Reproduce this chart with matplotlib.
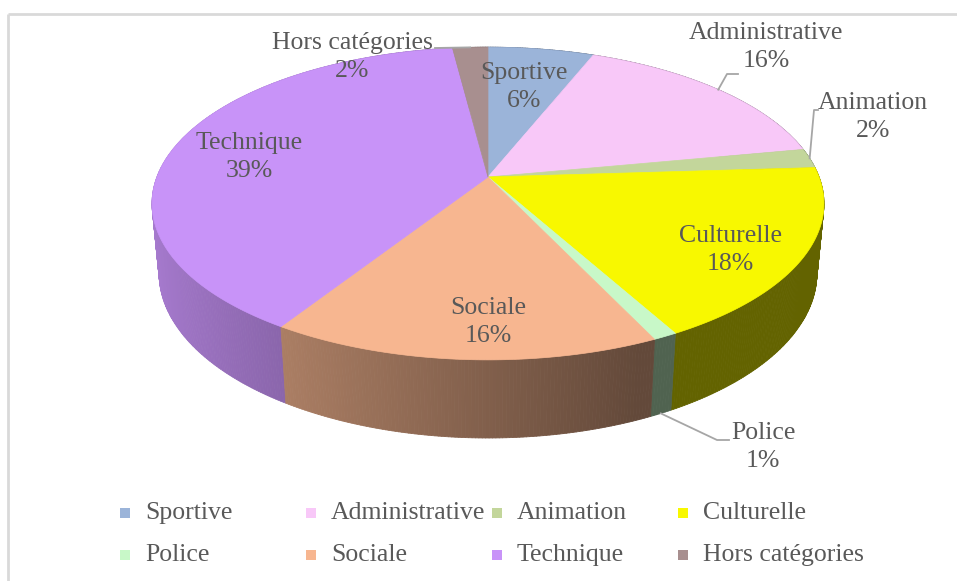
import numpy as np
import matplotlib
matplotlib.use("Agg")
import matplotlib.pyplot as plt
from matplotlib.collections import PolyCollection
from matplotlib.colors import to_rgb

# Répartition des demandes par catégorie (%)
categories = ["Sportive", "Administrative", "Animation", "Culturelle",
              "Police", "Sociale", "Technique", "Hors catégories"]
shares = [6, 16, 2, 18, 1, 16, 39, 2]
colors = ["#9bb4d9", "#f8c8f8", "#c3d69b", "#f8f800",
          "#c8f8c8", "#f7b690", "#c893f8", "#a88f8f"]

# label block centres (px) and leader stubs, layout only
label_pos = {
    "Sportive": (524, 87), "Administrative": (766, 47), "Animation": (873, 117),
    "Culturelle": (730, 250), "Police": (763, 447), "Sociale": (488, 322),
    "Technique": (249, 157), "Hors catégories": (352, 57),
}
leaders = {
    "Administrative": ([(738, 74), (727, 74)], "top"),
    "Animation": ([(818, 110), (814, 110)], "top"),
    "Police": ([(729, 440), (717, 440)], "bottom"),
    "Hors catégories": ([(435, 48)], "top"),
}

W, H = 957, 581
TEXT = "#595959"
FONT = "Liberation Serif"
FS = 18.5

# camera for the 3D disc (pixel space)
CX, CY = 488, 177
FOC, DIST = 1735.0, 5.24
ALPHA = np.radians(27.3)
DEPTH = 0.239
ca, sa = np.cos(ALPHA), np.sin(ALPHA)


def project(theta, level=0.0):
    """theta clockwise from 12 o'clock, level 0 = top face, -DEPTH = bottom."""
    X = np.sin(theta)
    Z = -np.cos(theta)
    d = DIST - (level * sa + Z * ca)
    sx = FOC * X / d
    sy = FOC * (level * ca - Z * sa) / d
    return CX + sx, CY - sy


def wall_shade(theta):
    X = np.sin(theta)
    return np.clip(0.84 - 0.46 * (X + 1) / 1.45, 0.40, 1.0)


fig = plt.figure(figsize=(W / 100, H / 100), dpi=100)
ax = fig.add_axes([0, 0, 1, 1])
ax.set_xlim(0, W)
ax.set_ylim(H, 0)
ax.axis("off")

# chart frame (top and left edges visible)
ax.plot([8, W + 5], [14, 14], color="#d9d9d9", lw=2, solid_capstyle="butt")
ax.plot([8, 8], [14, H + 5], color="#d9d9d9", lw=2, solid_capstyle="butt")

bounds = np.concatenate([[0], np.cumsum(shares)]) / sum(shares) * 2 * np.pi

# side walls, painted back to front
quads, fcols, depth_key = [], [], []
for i, col in enumerate(colors):
    base = np.array(to_rgb(col))
    n = max(2, int(np.degrees(bounds[i + 1] - bounds[i]) * 2))
    th = np.linspace(bounds[i], bounds[i + 1], n + 1)
    for t1, t2 in zip(th[:-1], th[1:]):
        p1 = project(t1); p2 = project(t2)
        q2 = project(t2, -DEPTH); q1 = project(t1, -DEPTH)
        quads.append([p1, p2, q2, q1])
        fcols.append(np.clip(base * wall_shade(0.5 * (t1 + t2)), 0, 1))
        depth_key.append(-np.cos(0.5 * (t1 + t2)))
order = np.argsort(depth_key)
walls = PolyCollection([quads[k] for k in order],
                       facecolors=[fcols[k] for k in order],
                       edgecolors=[fcols[k] for k in order], linewidths=0.6)
ax.add_collection(walls)

# top faces
tops = []
for i in range(len(shares)):
    th = np.linspace(bounds[i], bounds[i + 1], 200)
    xs, ys = project(th)
    tops.append(np.column_stack([np.r_[CX, xs], np.r_[CY, ys]]))
ax.add_collection(PolyCollection(tops, facecolors=colors, edgecolors=colors,
                                 linewidths=0.5))

# leader lines to the rim at each slice's mid angle
for name, (stub, rim) in leaders.items():
    i = categories.index(name)
    mid = 0.5 * (bounds[i] + bounds[i + 1])
    end = project(mid, 0.0 if rim == "top" else -DEPTH)
    pts = stub + [end]
    ax.plot([p[0] for p in pts], [p[1] for p in pts], color="#a6a6a6", lw=1.3)

# data labels
for name, val in zip(categories, shares):
    x, y = label_pos[name]
    ax.text(x, y, f"{name}\n{val}%", ha="center", va="center", color=TEXT,
            fontsize=FS, family=FONT, linespacing=1.3)

# legend, two rows of four
for i, (name, col) in enumerate(zip(categories, colors)):
    row, c = divmod(i, 4)
    x0 = 125 + c * 186
    y0 = 513 + row * 42
    ax.add_patch(plt.Rectangle((x0 - 5, y0 - 5), 10, 10, facecolor=col,
                               edgecolor="none"))
    ax.text(x0 + 20, y0, name, ha="left", va="center", color=TEXT,
            fontsize=FS, family=FONT)

fig.savefig("out.png", dpi=100, facecolor="white")
